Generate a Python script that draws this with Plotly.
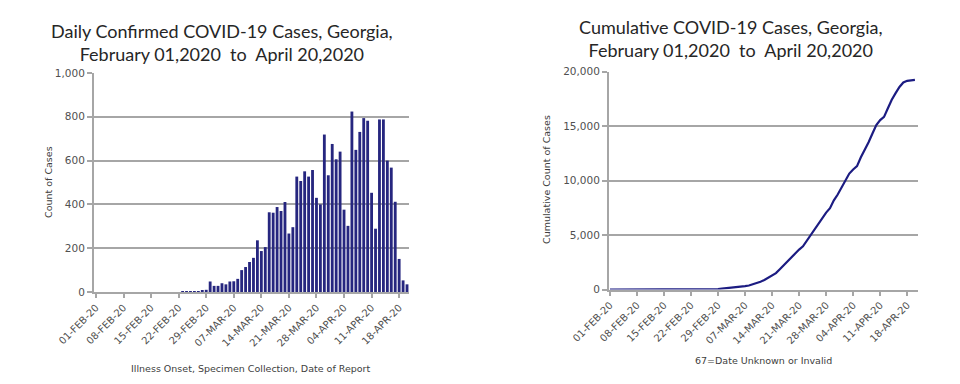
import pandas as pd
import plotly.graph_objects as go

# ---- data ----
day_labels = [d.strftime("%d-%b-%y").upper() for d in pd.date_range("2020-02-01", "2020-04-20", freq="D")]
tick_labels = ["01-FEB-20", "08-FEB-20", "15-FEB-20", "22-FEB-20", "29-FEB-20", "07-MAR-20",
               "14-MAR-20", "21-MAR-20", "28-MAR-20", "04-APR-20", "11-APR-20", "18-APR-20"]
daily_cases = [0] * 22 + [
    2, 3, 3, 4, 4, 5, 10,
    48, 28, 28, 40, 35, 48, 49, 60,
    100, 114, 137, 156, 236, 187, 205,
    364, 362, 388, 370, 411, 267, 296,
    527, 507, 551, 527, 557, 430, 400,
    719, 533, 676, 606, 641, 376, 302,
    824, 649, 731, 794, 782, 453, 289,
    788, 788, 600, 568, 412, 151, 53, 35]
cumulative_cases = [0] * 22 + [
    2, 5, 8, 12, 16, 21, 31,
    79, 107, 135, 175, 210, 258, 307, 367,
    467, 581, 718, 874, 1110, 1297, 1502,
    1866, 2228, 2616, 2986, 3397, 3664, 3960,
    4487, 4994, 5545, 6072, 6629, 7059, 7459,
    8178, 8711, 9387, 9993, 10634, 11010, 11312,
    12136, 12785, 13516, 14310, 15092, 15545, 15834,
    16622, 17410, 18010, 18578, 18990, 19141, 19194, 19229]

left_title = "Daily Confirmed COVID-19 Cases, Georgia,<br>February 01,2020  to  April 20,2020"
right_title = "Cumulative COVID-19 Cases, Georgia,<br>February 01,2020  to  April 20,2020"

W, H = 960, 384
def px(x):
    return x / W
def py(y):
    return 1 - y / H

TICK_FONT = dict(family="DejaVu Sans", size=10.5, color="#505050")
GRID = "#a6a6a6"

fig = go.Figure()
fig.add_trace(go.Bar(x=day_labels, y=daily_cases, xaxis="x", yaxis="y",
                     marker=dict(color="#26267f", line=dict(color="#10104f", width=0)),
                     width=0.72, showlegend=False))
fig.add_trace(go.Scatter(x=day_labels, y=cumulative_cases, xaxis="x2", yaxis="y2",
                         mode="lines", line=dict(color="#1c1c82", width=2.2), showlegend=False))

xcommon = dict(type="category", tickmode="array", tickvals=tick_labels, ticktext=tick_labels,
               tickangle=-45, tickfont=dict(family="DejaVu Sans", size=10, color="#505050"),
               ticks="outside", ticklen=4, tickcolor=GRID, tickwidth=1.5,
               showline=True, linecolor=GRID, linewidth=2, showgrid=False, zeroline=False,
               fixedrange=True, automargin=False)
ycommon = dict(showgrid=True, gridcolor=GRID, gridwidth=2, showline=True, linecolor=GRID,
               linewidth=2, ticks="outside", ticklen=5, tickcolor=GRID, tickwidth=1.5,
               tickfont=TICK_FONT, zeroline=False, tickformat=",d", fixedrange=True,
               automargin=False)

fig.update_layout(
    width=W, height=H, margin=dict(l=0, r=0, t=0, b=0, autoexpand=False),
    paper_bgcolor="white", plot_bgcolor="white",
    xaxis=dict(domain=[px(94), px(409)], range=[-0.5, 79.5], anchor="y", **xcommon),
    yaxis=dict(domain=[py(292), py(73)], range=[0, 1000], dtick=200, anchor="x", **ycommon),
    xaxis2=dict(domain=[px(609), px(918)], range=[-0.25, 79.8], anchor="y2", **xcommon),
    yaxis2=dict(domain=[py(289.5), py(71.5)], range=[0, 20000], dtick=5000, anchor="x2", **ycommon),
)

ann = [
    dict(text=left_title, x=px(222), y=py(43), font=dict(family="Lato", size=18, color="#262626")),
    dict(text=right_title, x=px(731), y=py(38), font=dict(family="Lato", size=18, color="#262626")),
    dict(text="Count of Cases", x=px(49), y=py(182), textangle=-90,
         font=dict(family="DejaVu Sans", size=9.5, color="#404040")),
    dict(text="Cumulative Count of Cases", x=px(546), y=py(180), textangle=-90,
         font=dict(family="DejaVu Sans", size=9.5, color="#404040")),
    dict(text="Illness Onset, Specimen Collection, Date of Report", x=px(251), y=py(368),
         font=dict(family="DejaVu Sans", size=9.5, color="#404040")),
    dict(text="67=Date Unknown or Invalid", x=px(763), y=py(360),
         font=dict(family="DejaVu Sans", size=9.5, color="#404040")),
]
for a in ann:
    a.update(xref="paper", yref="paper", showarrow=False, xanchor="center", yanchor="middle")
fig.update_layout(annotations=ann)

fig.write_html("out.html", config={"displayModeBar": False},
               post_script="document.body.style.margin='0';document.body.style.overflow='hidden';")
